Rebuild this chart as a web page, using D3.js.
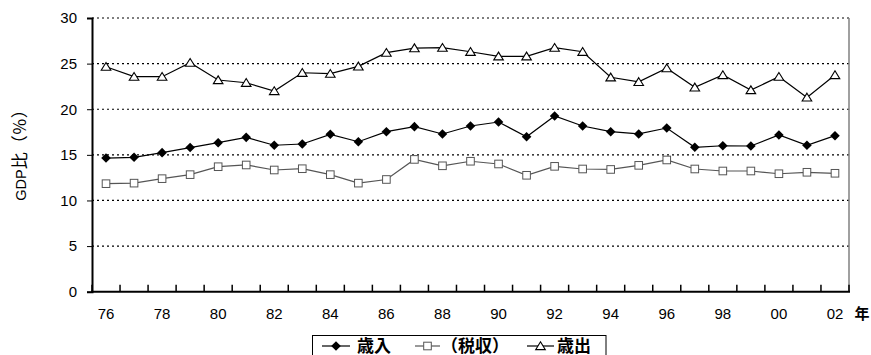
<!DOCTYPE html>
<html>
<head>
<meta charset="utf-8">
<script src="https://cdn.jsdelivr.net/npm/d3@7/dist/d3.min.js"></script>
<style>
  html, body { margin: 0; padding: 0; background: #fff; }
  svg { display: block; }
  text { font-family: "Liberation Sans", Arial, "Noto Sans CJK JP", sans-serif; }
</style>
</head>
<body>
<svg id="chart" width="871" height="355"></svg>
<script>
// Fiscal years 1976–2002 (two-digit labels)
const years = ["76","77","78","79","80","81","82","83","84","85","86","87","88","89",
               "90","91","92","93","94","95","96","97","98","99","00","01","02"];
// Revenue (歳入), % of GDP
const revenue = [14.65,14.73,15.24,15.8,16.33,16.92,16.05,16.19,17.25,16.44,17.54,18.09,17.29,18.16,
                 18.6,16.99,19.26,18.16,17.54,17.29,17.94,15.83,16.0,15.97,17.18,16.05,17.1];
// Tax revenue (税収), % of GDP
const tax = [11.84,11.9,12.39,12.83,13.7,13.89,13.34,13.48,12.83,11.9,12.3,14.5,13.8,14.3,
             14.0,12.76,13.74,13.45,13.4,13.85,14.44,13.45,13.23,13.23,12.93,13.09,12.98];
// Expenditure (歳出), % of GDP
const expenditure = [24.66,23.57,23.57,25.1,23.2,22.9,22.0,24.0,23.9,24.7,26.2,26.7,26.75,26.3,
                     25.8,25.8,26.75,26.3,23.5,23.0,24.5,22.4,23.75,22.1,23.57,21.3,23.75];
const yTicks = [0,5,10,15,20,25,30];
const seriesNames = ["歳入", "（税収）", "歳出"];

const svg = d3.select("#chart");
const m = { left: 92, top: 18, right: 849, bottom: 291.7 };

const x = d3.scaleBand().domain(years).range([m.left, m.right]).paddingInner(0).paddingOuter(0);
const y = d3.scaleLinear().domain([0, 30]).range([m.bottom, m.top]);
const cx = d => x(d) + x.bandwidth() / 2;

// dotted horizontal gridlines
svg.append("g").selectAll("line").data(yTicks.filter(t => t > 0)).join("line")
  .attr("x1", m.left).attr("x2", m.right)
  .attr("y1", d => y(d)).attr("y2", d => y(d))
  .attr("stroke", "#000").attr("stroke-width", 1.2).attr("stroke-dasharray", "2,3");

// right border
svg.append("line").attr("x1", m.right).attr("x2", m.right)
  .attr("y1", m.top).attr("y2", m.bottom).attr("stroke", "#808080").attr("stroke-width", 1.5);

// y axis
const yAxis = svg.append("g").attr("transform", `translate(${m.left},0)`)
  .call(d3.axisLeft(y).tickValues(yTicks).tickSize(5).tickPadding(10));
yAxis.select(".domain").attr("stroke-width", 2);
yAxis.selectAll("text").attr("font-size", 15).attr("fill", "#000");

// x axis: ticks at category boundaries pointing inward
const bounds = years.map(d => x(d)).concat([m.right]);
svg.append("g").selectAll("line").data(bounds).join("line")
  .attr("x1", d => d).attr("x2", d => d)
  .attr("y1", m.bottom).attr("y2", m.bottom - 7)
  .attr("stroke", "#000").attr("stroke-width", 1.5);
svg.append("line").attr("x1", m.left - 1).attr("x2", m.right + 1)
  .attr("y1", m.bottom).attr("y2", m.bottom).attr("stroke", "#000").attr("stroke-width", 2);
svg.append("g").selectAll("text").data(years.filter((d, i) => i % 2 === 0)).join("text")
  .attr("x", d => cx(d)).attr("y", 318.5)
  .attr("text-anchor", "middle").attr("font-size", 15).text(d => d);
svg.append("text").attr("x", 862).attr("y", 318.5).attr("text-anchor", "middle")
  .attr("font-size", 15).attr("font-weight", "bold")
  .attr("font-family", "'Noto Sans CJK JP', sans-serif").text("年");

// y axis title: latin part plus full-width CJK part
const yTitle = svg.append("text").attr("transform", "translate(26,151) rotate(-90)")
  .attr("text-anchor", "middle");
yTitle.append("tspan").attr("font-size", 14.5)
  .attr("font-family", "'Liberation Sans', Arial, sans-serif").text("GDP");
yTitle.append("tspan").attr("font-size", 17)
  .attr("font-family", "'Noto Sans CJK JP', sans-serif").text("比（％）");

const drawSeries = (vals, color, markerFn) => {
  const line = d3.line().x((d, i) => cx(years[i])).y(d => y(d));
  svg.append("path").datum(vals).attr("d", line).attr("fill", "none")
    .attr("stroke", color).attr("stroke-width", 1.2);
  const g = svg.append("g");
  vals.forEach((v, i) => markerFn(g, cx(years[i]), y(v)));
};

// marker shapes
const markDiamond = (g, px, py) => g.append("path")
  .attr("d", `M${px},${py - 4.8}L${px + 4.8},${py}L${px},${py + 4.8}L${px - 4.8},${py}Z`)
  .attr("fill", "#000");
const markSquare = (g, px, py) => g.append("rect")
  .attr("x", px - 3.8).attr("y", py - 3.8).attr("width", 7.6).attr("height", 7.6)
  .attr("fill", "#fff").attr("stroke", "#555").attr("stroke-width", 1);
const markTriangle = (g, px, py) => g.append("path")
  .attr("d", `M${px},${py - 4.2}L${px + 4.8},${py + 3.6}L${px - 4.8},${py + 3.6}Z`)
  .attr("fill", "#fff").attr("stroke", "#000").attr("stroke-width", 1.1);

drawSeries(tax, "#555", markSquare);
drawSeries(expenditure, "#000", markTriangle);
drawSeries(revenue, "#000", markDiamond);

// legend
const lg = svg.append("g");
lg.append("rect").attr("x", 312.5).attr("y", 335.5).attr("width", 293.5).attr("height", 30)
  .attr("fill", "#fff").attr("stroke", "#000").attr("stroke-width", 1);
const legendItems = [
  { name: seriesNames[0], x0: 322, x1: 350, tx: 357, color: "#000", mk: markDiamond },
  { name: seriesNames[1], x0: 415, x1: 440, tx: 441, color: "#555", mk: markSquare },
  { name: seriesNames[2], x0: 527, x1: 554, tx: 557, color: "#000", mk: markTriangle }
];
legendItems.forEach(it => {
  const ly = 346;
  lg.append("line").attr("x1", it.x0).attr("x2", it.x1).attr("y1", ly).attr("y2", ly)
    .attr("stroke", it.color).attr("stroke-width", 1.2);
  it.mk(lg, (it.x0 + it.x1) / 2, ly);
  lg.append("text").attr("x", it.tx).attr("y", ly + 6).attr("font-size", 17)
    .attr("font-weight", "bold").attr("font-family", "'Noto Sans CJK JP', sans-serif")
    .text(it.name);
});
</script>
</body>
</html>
